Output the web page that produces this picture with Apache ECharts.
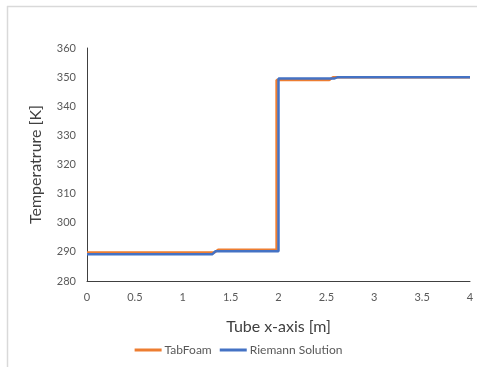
<!DOCTYPE html>
<html>
<head>
<meta charset="utf-8">
<script src="https://cdn.jsdelivr.net/npm/echarts@6/dist/echarts.min.js"></script>
<style>html,body{margin:0;padding:0;background:#fff}#c{width:477px;height:367px}</style>
</head>
<body>
<div id="c"></div>
<script>
var tabX = [0, 1.33, 1.37, 1.98, 1.98, 2.53, 2.57, 4];
var tabY = [289.8, 289.8, 290.7, 290.7, 349.0, 349.0, 350.0, 350.0];
var riemX = [0, 1.31, 1.34, 2.0, 2.0, 2.58, 2.62, 4];
var riemY = [289.2, 289.2, 290.2, 290.2, 349.5, 349.5, 350.0, 350.0];
var seriesNames = ['TabFoam', 'Riemann Solution'];
var xTicks = [0, 0.5, 1, 1.5, 2, 2.5, 3, 3.5, 4];
var yTicks = [280, 290, 300, 310, 320, 330, 340, 350, 360];

function pairs(xs, ys){ return xs.map(function(x,i){ return [x, ys[i]]; }); }
var font = 'Lato, "Liberation Sans", sans-serif';
var chart = echarts.init(document.getElementById('c'), null, {renderer:'canvas'});
chart.setOption({
  animation:false,
  backgroundColor:'#fff',
  textStyle:{fontFamily:font},
  grid:{left:87, right:7, top:48, bottom:86, containLabel:false},
  graphic:[
    {type:'line', shape:{x1:7,y1:6.5,x2:477,y2:6.5}, style:{stroke:'#d9d9d9', lineWidth:1.5}},
    {type:'line', shape:{x1:7.5,y1:6,x2:7.5,y2:367}, style:{stroke:'#d9d9d9', lineWidth:1.5}}
  ],
  legend:{
    bottom:6, left:'center',
    icon:'rect', itemWidth:27, itemHeight:3, itemGap:8,
    textStyle:{fontSize:12, color:'#595959', fontFamily:font, padding:[0,0,0,-2]},
    data:seriesNames
  },
  xAxis:{
    type:'value', min:xTicks[0], max:xTicks[xTicks.length-1], interval:0.5,
    name:'Tube x-axis [m]', nameLocation:'middle', nameGap:38,
    nameTextStyle:{fontSize:16, color:'#404040', fontFamily:font},
    axisLine:{show:true, lineStyle:{color:'#404040', width:1}},
    axisTick:{show:false},
    splitLine:{show:false},
    axisLabel:{fontSize:11, color:'#595959', margin:11, fontFamily:font}
  },
  yAxis:{
    type:'value', min:yTicks[0], max:yTicks[yTicks.length-1], interval:10,
    name:'Temperatrure [K]', nameLocation:'middle', nameGap:43, nameRotate:90,
    nameTextStyle:{fontSize:16, color:'#404040', fontFamily:font},
    axisLine:{show:true, lineStyle:{color:'#404040', width:1}},
    axisTick:{show:false},
    splitLine:{show:false},
    axisLabel:{fontSize:11, color:'#595959', margin:11, fontFamily:font}
  },
  series:[
    {name:seriesNames[0], type:'line', data:pairs(tabX, tabY), showSymbol:false, symbol:'none',
     lineStyle:{color:'#ED7D31', width:2.5}, itemStyle:{color:'#ED7D31'}},
    {name:seriesNames[1], type:'line', data:pairs(riemX, riemY), showSymbol:false, symbol:'none',
     lineStyle:{color:'#4472C4', width:2.5}, itemStyle:{color:'#4472C4'}}
  ]
});
</script>
</body>
</html>
